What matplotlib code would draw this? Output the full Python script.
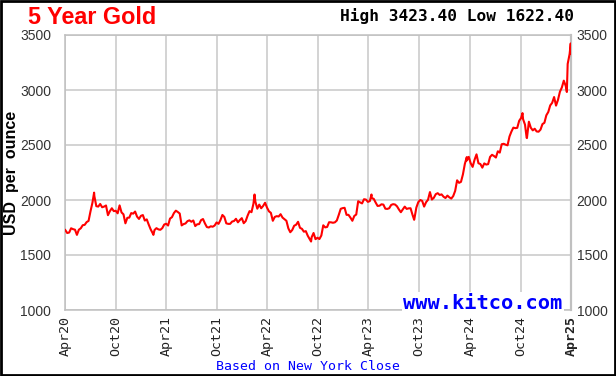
import matplotlib
matplotlib.use("Agg")
import matplotlib.pyplot as plt
import pandas as pd
from matplotlib.patches import Rectangle

# ---- data (weekly closes, USD/oz) ----
w2020 = [1727,1700,1704,1743,1735,1730,1683,1730,1743,1771,1774,1799,1810,1897,1975,2035,1944,1940,1964,1934,1940,1950,1862,1899,1925,1899,1902,1879,1951,1887,1870,1788,1838,1840,1881,1876]
w2021 = [1895,1849,1828,1856,1863,1813,1824,1777,1734,1700,1727,1744,1733,1729,1744,1777,1784,1768,1831,1844,1881,1903,1891,1877,1769,1781,1787,1808,1815,1802,1814,1763,1779,1781,1817,1827,1787,1754,1750,1761,1757,1768,1796,1783,1818,1864,1846,1788,1783,1783,1804,1809,1829]
w2022 = [1797,1818,1835,1789,1808,1858,1899,1889,1966,1985,1921,1958,1925,1946,1975,1931,1897,1883,1811,1846,1853,1850,1871,1840,1826,1811,1742,1707,1727,1766,1775,1802,1747,1738,1712,1717,1675,1644,1661,1700,1644,1657,1645,1677,1770,1751,1755,1798,1797,1793,1797,1814]
w2023 = [1865,1920,1926,1929,1865,1865,1840,1811,1855,1868,1989,1978,1969,2007,2004,1983,1990,2017,2011,1977,1946,1948,1961,1958,1921,1919,1925,1955,1962,1959,1943,1914,1889,1915,1940,1919,1924,1925,1866,1832,1932,1981,2000,1992,1940,1980,2002,2072,2004,2020,2053,2062]
w2024 = [2046,2051,2030,2018,2040,2024,2013,2036,2083,2179,2156,2165,2233,2329,2359,2392,2334,2301,2366,2415,2334,2327,2294,2333,2322,2326,2392,2411,2400,2386,2443,2431,2507,2511,2503,2497,2577,2622,2658,2653,2656,2720,2746,2735,2685,2563,2712,2657,2633,2648,2623,2621]
w2025 = [2640,2690,2702,2770,2800,2860,2883,2936,2858,2910,2984,3023,3085,3037,3237,3327]
starts = ["2020-04-24", "2021-01-01", "2022-01-07", "2023-01-06", "2024-01-05", "2025-01-03"]

extra_dates = ["2020-08-06", "2021-03-08", "2022-03-08", "2022-09-28", "2023-05-04", "2023-10-05",
               "2024-04-12", "2024-10-30", "2024-11-14", "2025-04-08", "2025-04-21", "2025-04-22", "2025-04-23"]
extra_vals = [2067, 1683, 2050, 1622.4, 2050, 1820, 2390, 2790, 2565, 2982, 3400, 3423.4, 3330]

tick_labels = ["Apr20", "Oct20", "Apr21", "Oct21", "Apr22", "Oct22", "Apr23", "Oct23", "Apr24", "Oct24", "Apr25"]
tick_dates = ["2020-04-23", "2020-10-23", "2021-04-23", "2021-10-23", "2022-04-23", "2022-10-23",
              "2023-04-23", "2023-10-23", "2024-04-23", "2024-10-23", "2025-04-23"]
y_ticks = [1000, 1500, 2000, 2500, 3000, 3500]

# ---- build series ----
parts = []
for s, vals in zip(starts, [w2020, w2021, w2022, w2023, w2024, w2025]):
    parts.append(pd.Series(vals, index=pd.date_range(s, periods=len(vals), freq="W-FRI"), dtype=float))
parts.append(pd.Series(extra_vals, index=pd.to_datetime(extra_dates), dtype=float))
series = pd.concat(parts).sort_index()

fig = plt.figure(figsize=(6.16, 3.76), dpi=100)
fig.patch.set_facecolor("white")
ax = fig.add_axes([65/616, 66/376, 506/616, 275/376])

ax.plot(series.index, series.values, color="#ff0000", lw=1.5, zorder=3)

ax.set_xlim(pd.Timestamp(tick_dates[0]), pd.Timestamp(tick_dates[-1]))
ax.set_ylim(1000, 3500)
ax.set_xticks(pd.to_datetime(tick_dates))
ax.set_xticklabels(tick_labels, rotation=90, family="DejaVu Sans Mono", fontsize=9.5, color="#222222")
ax.get_xticklabels()[-1].set_fontweight("bold")
ax.set_yticks(y_ticks)
ax.set_yticklabels([str(v) for v in y_ticks], family="Liberation Sans", fontsize=10, color="#333333")
ax.tick_params(axis="both", length=0)
ax.tick_params(axis="y", pad=10)
ax.tick_params(axis="x", pad=4)
ax.grid(True, color="#c8c8c8", lw=1.1)
ax.set_axisbelow(True)
for sp in ax.spines.values():
    sp.set_color("#c0c0c0")
    sp.set_linewidth(1.1)
ax.spines["right"].set_linewidth(1.6)

# right-hand tick labels
ax2 = ax.twinx()
ax2.set_ylim(ax.get_ylim())
ax2.set_yticks(y_ticks)
ax2.set_yticklabels([str(v) for v in y_ticks], family="Liberation Sans", fontsize=10, color="#333333")
ax2.tick_params(axis="y", length=0, pad=4)
for sp in ax2.spines.values():
    sp.set_visible(False)

ax.set_ylabel("USD  per  ounce", family="Liberation Sans", fontweight="bold", fontsize=11.5,
              color="black")
ax.yaxis.set_label_coords(-0.091, 0.5)

# watermark
ax.text(0.983, -0.01, "www.kitco.com", transform=ax.transAxes, ha="right", va="bottom",
        family="DejaVu Sans Mono", fontweight="bold", fontsize=14.7, color="#0000ff",
        bbox=dict(facecolor="white", edgecolor="none", pad=1.0), zorder=4)

# titles
fig.text(28/616, 1 - 18/376, "5 Year Gold", ha="left", va="center", family="Liberation Sans",
         fontweight="bold", fontsize=16.8, color="#ff0000")
fig.text(574/616, 1 - 16/376, "High 3423.40 Low 1622.40", ha="right", va="center",
         family="DejaVu Sans Mono", fontweight="bold", fontsize=11.6, color="black")
fig.text(308/616, 1 - 367/376, "Based on New York Close", ha="center", va="center",
         family="DejaVu Sans Mono", fontsize=9.5, color="#0000ff")

# outer border
fig.patches.append(Rectangle((0.001, 0.002), 0.997, 0.996, transform=fig.transFigure,
                             fill=False, edgecolor="black", lw=2))

fig.savefig("out.png", dpi=100, facecolor="white")
